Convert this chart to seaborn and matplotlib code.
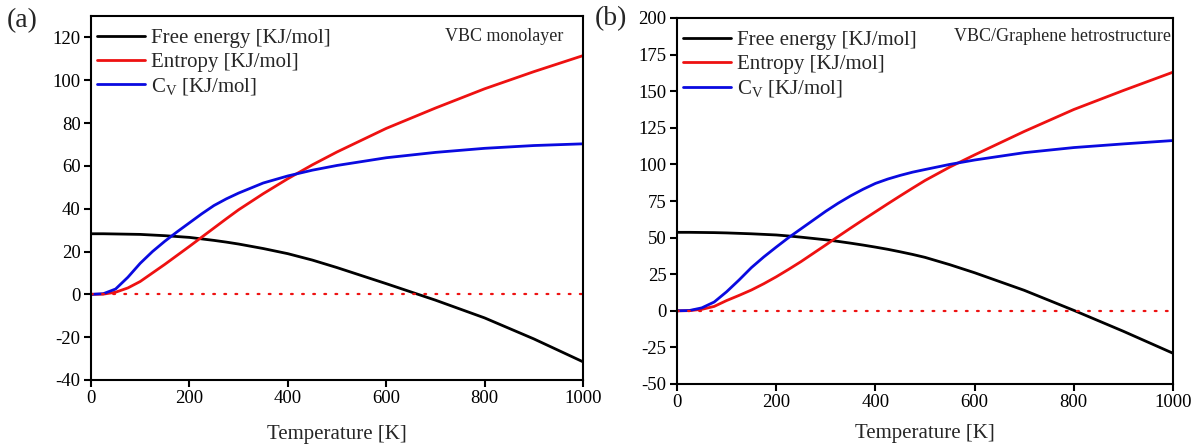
import numpy as np
import pandas as pd
import matplotlib
matplotlib.use("Agg")
import matplotlib.pyplot as plt
import seaborn as sns

# ---------------- data ----------------
# Panel (a): VBC monolayer
T_a = [0, 25, 50, 75, 100, 125, 150, 175, 200, 225, 250, 275, 300, 350, 400, 450, 500, 600, 700, 800, 900, 1000]
free_a = [28.3, 28.3, 28.2, 28.1, 28.0, 27.7, 27.4, 27.0, 26.6, 25.9, 25.2, 24.4, 23.5, 21.4, 19.0, 16.0, 12.5, 5.0, -2.7, -11.0, -20.8, -31.5]
entropy_a = [0.0, 0.1, 1.0, 3.0, 6.0, 10.0, 14.0, 18.2, 22.4, 26.7, 31.0, 35.3, 39.5, 47.0, 54.0, 60.5, 66.5, 77.5, 87.0, 96.0, 104.0, 111.5]
cv_a = [0.0, 0.3, 2.5, 8.0, 14.5, 20.0, 24.8, 29.2, 33.4, 37.6, 41.5, 44.6, 47.3, 52.0, 55.3, 58.0, 60.2, 63.8, 66.3, 68.2, 69.5, 70.3]

# Panel (b): VBC/Graphene hetrostructure
T_b = [0, 25, 50, 75, 100, 125, 150, 175, 200, 225, 250, 275, 300, 325, 350, 375, 400, 425, 450, 475, 500, 550, 600, 700, 800, 900, 1000]
free_b = [53.6, 53.6, 53.5, 53.4, 53.2, 52.9, 52.6, 52.2, 51.8, 51.1, 50.3, 49.4, 48.5, 47.4, 46.2, 44.9, 43.5, 42.0, 40.3, 38.5, 36.5, 31.5, 26.0, 14.0, 0.3, -14.0, -29.0]
entropy_b = [0.0, 0.1, 1.0, 3.0, 7.0, 10.5, 14.2, 18.5, 23.2, 28.3, 33.6, 39.3, 45.0, 50.8, 56.5, 62.1, 67.6, 73.1, 78.5, 83.8, 89.0, 98.2, 106.5, 122.5, 137.5, 150.5, 163.0]
cv_b = [0.0, 0.2, 2.0, 6.0, 13.0, 21.0, 29.5, 36.8, 43.5, 50.0, 56.0, 62.0, 68.0, 73.5, 78.5, 83.0, 87.0, 90.0, 92.5, 94.7, 96.5, 100.0, 103.0, 108.0, 111.5, 114.0, 116.3]

zero_T = [0, 1000]
zero_v = [0, 0]

series_labels = ["Free energy [KJ/mol]", "Entropy [KJ/mol]", "C$_{\\mathregular{V}}$ [KJ/mol]"]
series_colors = ["#000000", "#ee1111", "#0a0ae0"]
panel_titles = ["VBC monolayer", "VBC/Graphene hetrostructure"]
panel_tags = ["(a)", "(b)"]
x_ticks = [0, 200, 400, 600, 800, 1000]
y_ticks_a = [-40, -20, 0, 20, 40, 60, 80, 100, 120]
y_ticks_b = [-50, -25, 0, 25, 50, 75, 100, 125, 150, 175, 200]

# ---------------- style ----------------
sns.set_style("ticks")
plt.rcParams["font.family"] = ["Liberation Serif", "DejaVu Serif"]
plt.rcParams["mathtext.fontset"] = "custom"
plt.rcParams["mathtext.rm"] = "Liberation Serif"
plt.rcParams["mathtext.it"] = "Liberation Serif:italic"
plt.rcParams["axes.linewidth"] = 1.5
plt.rcParams["axes.edgecolor"] = "black"
plt.rcParams["axes.unicode_minus"] = False

fig = plt.figure(figsize=(12.01, 4.48), dpi=100)
W, H = 1201, 448
def ax_rect(l, t, r, b):
    return [l / W, 1 - b / H, (r - l) / W, (b - t) / H]

ax_a = fig.add_axes(ax_rect(91, 16, 583, 380))
ax_b = fig.add_axes(ax_rect(677, 18, 1173, 384))

panels = [
    (ax_a, T_a, [free_a, entropy_a, cv_a], (-40, 130), y_ticks_a, 13, (0.57, 0.93) ),
    (ax_b, T_b, [free_b, entropy_b, cv_b], (-50, 200), y_ticks_b, 9, (0.995, 0.95)),
]

for i, (ax, T, ys, ylim, yt, lpad, tpos) in enumerate(panels):
    for y, lab, col in zip(ys, series_labels, series_colors):
        df = pd.DataFrame({"T": T, "v": y})
        sns.lineplot(data=df, x="T", y="v", ax=ax, color=col, linewidth=2.0, label=lab)
    zl = sns.lineplot(x=zero_T, y=zero_v, ax=ax, color="#ee1111", linewidth=1.6)
    zl.lines[-1].set_dashes((0.8, 4.2))
    zl.lines[-1].set_dash_capstyle("round")
    zl.lines[-1].set_label("_nolegend_")

    ax.set_xlim(0, 1000)
    ax.set_ylim(*ylim)
    ax.set_xticks(x_ticks)
    ax.set_yticks(yt)
    ax.tick_params(axis="both", direction="out", length=5, width=1.5, labelsize=13.5,
                   colors="black", pad=2.5)
    ax.tick_params(top=False, right=False)
    for s in ax.spines.values():
        s.set_visible(True)
        s.set_linewidth(1.5)
        s.set_color("black")
    ax.set_xlabel("Temperature [K]", fontsize=15, labelpad=lpad)
    ax.set_ylabel("")

    handles, labels = ax.get_legend_handles_labels()
    handles = handles[:3]
    labels = labels[:3]
    ax.legend(handles, labels, loc="upper left", bbox_to_anchor=(0.012, 0.965),
              frameon=False, fontsize=15, handlelength=2.3, handletextpad=0.3,
              labelspacing=0.2, borderaxespad=0.0, borderpad=0.0)
    ax.text(0.96 if i == 0 else 0.995, 0.945 if i == 0 else 0.95, panel_titles[i],
            transform=ax.transAxes, ha="right", va="center", fontsize=13)

fig.text(7 / W, 1 - 21 / H, panel_tags[0], fontsize=20, ha="left", va="center")
fig.text(595 / W, 1 - 19 / H, panel_tags[1], fontsize=20, ha="left", va="center")

fig.savefig("out.png", dpi=100)
